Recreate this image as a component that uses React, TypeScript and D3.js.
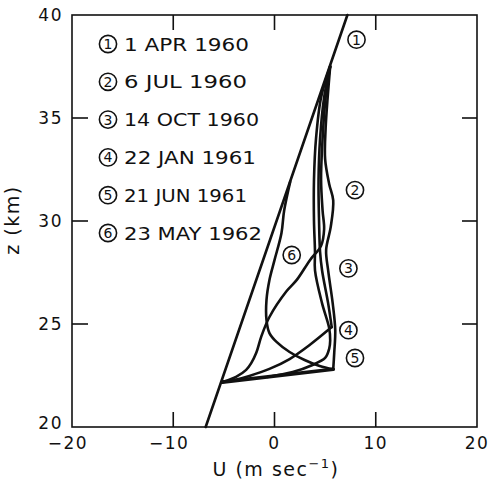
import React from 'react';
import * as d3 from 'd3';

type Pt = [number, number];

// legend dates, one per profile
const dates = ['1 APR 1960', '6 JUL 1960', '14 OCT 1960', '22 JAN 1961', '21 JUN 1961', '23 MAY 1962'];

const xTicks = [-20, -10, 0, 10, 20];
const yTicks = [20, 25, 30, 35, 40];
const xInner = [-10, 0, 10];
const yInner = [25, 30, 35];

// profiles as [U, z] points, split into segments where the trace turns sharply
const profile1: Pt[][] = [[[-6.8, 20], [7.2, 40]]];
const lowerLeg: Pt[] = [[-5.15, 22.18], [5.8, 22.8]];
const profile2: Pt[][] = [[
  [5.5, 37.5], [5.25, 36], [5.05, 34.5], [5.0, 33], [5.4, 31.8], [5.8, 31], [5.55, 29.7],
  [5.1, 28.6], [5.3, 27.6], [5.75, 26], [6.0, 24.7], [5.9, 23.6], [5.8, 22.8],
]];
const profile3: Pt[][] = [[
  [5.5, 37.5], [5.05, 36], [4.75, 34], [4.6, 32], [4.75, 30.5], [4.9, 29.6], [4.6, 28.8],
  [3.5, 28.1], [2.2, 27.14], [1.2, 26.6], [-0.5, 25.34], [-1.3, 24.4], [-1.8, 23.6],
  [-2.3, 23.1], [-2.8, 22.77], [-3.8, 22.43], [-5.15, 22.18],
]];
const profile4: Pt[][] = [
  [[5.5, 37.5], [4.9, 36], [4.5, 34], [4.35, 32], [4.4, 30], [4.5, 28.5], [4.7, 27.6],
    [5.3, 26], [5.65, 24.85]],
  [[5.65, 24.85], [3.47, 23.98], [1.49, 23.3], [-0.5, 22.82], [-2.48, 22.48], [-3.96, 22.28], [-5.15, 22.18]],
];
const profile5: Pt[][] = [[
  [5.5, 37.5], [4.6, 36], [4.1, 34], [3.9, 32], [3.9, 30], [4.0, 28.5], [4.0, 27.6],
  [4.7, 26], [5.4, 24.8], [5.5, 24.2], [5.4, 23.8], [5.0, 23.35], [3.7, 23.0],
  [1.8, 22.67], [-0.7, 22.43],
]];
const profile6: Pt[][] = [[
  [1.55, 31.9], [0.95, 30.5], [0.69, 29.42], [0.0, 28.1], [-0.5, 27.14], [-0.79, 26.17],
  [-0.79, 25.19], [-0.5, 24.56], [0.2, 24.13], [1.49, 23.64], [2.97, 23.25], [4.46, 22.96], [5.8, 22.8],
]];
const profiles = [profile1, profile2, profile3, profile4, profile5, profile6];

// where the circled numbers sit, in [U, z]
const labelPos: Pt[] = [[8.1, 38.8], [7.95, 31.5], [7.3, 27.7], [7.3, 24.7], [7.95, 23.35], [1.7, 28.35]];

const legendWidths = [125, 123, 135, 132, 123, 138];

const font = "'DejaVu Sans', sans-serif";
const ink = '#111';

function Circled({ x, y, n }: { x: number; y: number; n: number }) {
  return (
    <g>
      <circle cx={x} cy={y} r={8.6} fill="white" stroke={ink} strokeWidth={1.6} />
      <text x={x} y={y + 5} textAnchor="middle" fontSize={14} fontFamily={font} fill={ink}>{n}</text>
    </g>
  );
}

export default function App() {
  const width = 490;
  const height = 480;
  const x = d3.scaleLinear().domain([-20, 20]).range([72, 477]);
  const y = d3.scaleLinear().domain([20, 40]).range([427, 15]);

  const smooth = d3.line<Pt>()
    .x(d => x(d[0]))
    .y(d => y(d[1]))
    .curve(d3.curveCatmullRom.alpha(0.5));

  const [x0, x1] = x.range();
  const [y0, y1] = y.range();

  return (
    <svg width={width} height={height} style={{ position: 'absolute', left: 0, top: 0, background: 'white' }}>
      {/* frame */}
      <rect x={x0} y={y1} width={x1 - x0} height={y0 - y1} fill="none" stroke={ink} strokeWidth={1.6} />

      {/* inward ticks */}
      {xInner.map(t => (
        <g key={'xt' + t}>
          <line x1={x(t)} x2={x(t)} y1={y0} y2={y0 - 15} stroke={ink} strokeWidth={1.6} />
          <line x1={x(t)} x2={x(t)} y1={y1} y2={y1 + 15} stroke={ink} strokeWidth={1.6} />
        </g>
      ))}
      {yInner.map(t => (
        <g key={'yt' + t}>
          <line x1={x0} x2={x0 + 16} y1={y(t)} y2={y(t)} stroke={ink} strokeWidth={1.6} />
          <line x1={x1} x2={x1 - 15} y1={y(t)} y2={y(t)} stroke={ink} strokeWidth={1.6} />
        </g>
      ))}

      {/* tick labels */}
      {xTicks.map(t => (
        <text key={'xl' + t} x={x(t) - (t < 0 ? 4 : 0)} y={449} textAnchor="middle" fontSize={17}
          fontFamily={font} letterSpacing={1.5} fill={ink}>
          {t < 0 ? '−' + Math.abs(t) : String(t)}
        </text>
      ))}
      {yTicks.map(t => (
        <text key={'yl' + t} x={63} y={y(t) + (t === 20 ? 2 : 6)} textAnchor="end" fontSize={17}
          fontFamily={font} letterSpacing={1.5} fill={ink}>{t}</text>
      ))}

      {/* axis titles */}
      <text x={276} y={476} textAnchor="middle" fontSize={19} fontFamily={font} fill={ink} letterSpacing={1.5}>
        U (m sec<tspan dy={-8} fontSize={13}>−1</tspan><tspan dy={8}>)</tspan>
      </text>
      <text transform="translate(19,220) rotate(-90)" textAnchor="middle" fontSize={19} fontFamily={font}
        fill={ink} letterSpacing={1.5}>z (km)</text>

      {/* profiles */}
      <path d={smooth(lowerLeg) || ''} fill="none" stroke={ink} strokeWidth={3.6} strokeLinecap="round" />
      {profiles.map((segs, i) => segs.map((s, j) => (
        <path key={`p${i}-${j}`} d={smooth(s) || ''} fill="none" stroke={ink} strokeWidth={2.6}
          strokeLinecap="round" strokeLinejoin="round" />
      )))}

      {/* curve labels */}
      {labelPos.map((p, i) => <Circled key={'cl' + i} x={x(p[0])} y={y(p[1])} n={i + 1} />)}

      {/* legend */}
      {dates.map((d, i) => {
        const ly = 44 + i * 37.8;
        return (
          <g key={'lg' + i}>
            <Circled x={108} y={ly} n={i + 1} />
            <text x={124} y={ly + 6.5} fontSize={17} fontFamily={font} fill={ink}
              textLength={legendWidths[i]} lengthAdjust="spacingAndGlyphs">{d}</text>
          </g>
        );
      })}
    </svg>
  );
}
